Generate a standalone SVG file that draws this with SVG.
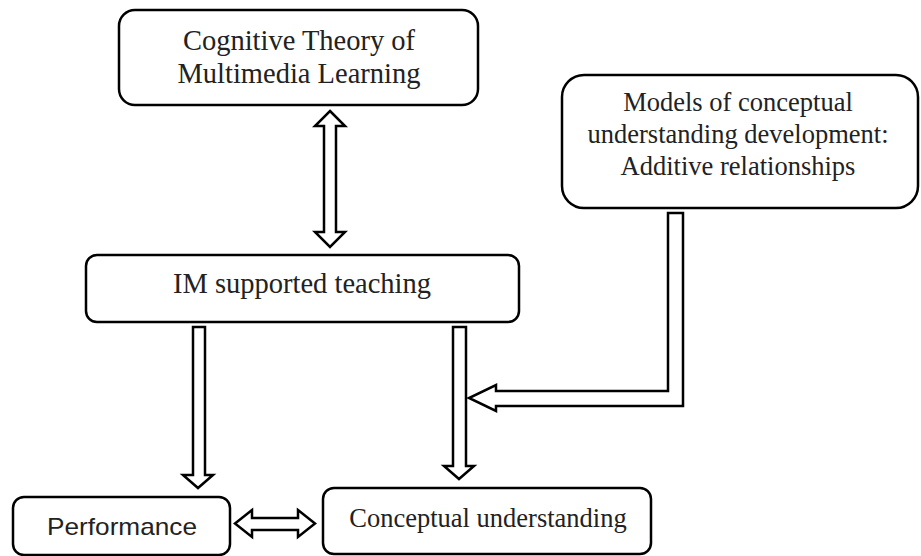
<svg xmlns="http://www.w3.org/2000/svg" width="921" height="556" viewBox="0 0 921 556">
<style>
.box{fill:#fff;stroke:#000;stroke-width:2.5}
.arr{fill:#fff;stroke:#000;stroke-width:2.5;stroke-linejoin:miter}
.serif{font-family:"Liberation Serif","Times New Roman",serif;fill:#222;text-anchor:middle}
.sans{font-family:"Liberation Sans",Arial,sans-serif;fill:#222;text-anchor:middle}
</style>
<rect width="921" height="556" fill="#fff"/>
<g id="connectors">
<path class="arr" d="M330,111 L345,126 L336,126 L336,232 L345,232 L330,247 L315,232 L324,232 L324,126 L315,126 Z"/>
<path class="arr" d="M193,327 L205,327 L205,475 L213,475 L198,488 L183,475 L193,475 Z"/>
<path class="arr" d="M453,327 L466,327 L466,466 L474,466 L459,479 L444,466 L453,466 Z"/>
<path class="arr" d="M668,213 L683,213 L683,406 L496,406 L496,411 L469,398 L496,385 L496,391 L668,391 Z"/>
<path class="arr" d="M235,523.5 L252,510 L252,518 L298,518 L298,510 L315,523.5 L298,537 L298,530 L252,530 L252,537 Z"/>
</g>
<g id="cognitive">
<rect class="box" x="119" y="10" width="359" height="95" rx="16"/>
<text class="serif" x="299" y="50" font-size="28.5">Cognitive Theory of</text>
<text class="serif" x="299" y="83" font-size="28.5">Multimedia Learning</text>
</g>
<g id="models">
<rect class="box" x="562" y="75" width="356" height="133" rx="22"/>
<text class="serif" x="738" y="111" font-size="26.5">Models of conceptual</text>
<text class="serif" x="738" y="143" font-size="26.5">understanding development:</text>
<text class="serif" x="738" y="175" font-size="26.5">Additive relationships</text>
</g>
<g id="im">
<rect class="box" x="86" y="255" width="433" height="67" rx="11"/>
<text class="serif" x="302" y="293" font-size="28.5">IM supported teaching</text>
</g>
<g id="performance">
<rect class="box" x="13" y="497" width="217" height="58" rx="11"/>
<text class="sans" x="122" y="535" font-size="24" textLength="150" lengthAdjust="spacingAndGlyphs">Performance</text>
</g>
<g id="conceptual">
<rect class="box" x="323" y="488" width="328" height="66" rx="11"/>
<text class="serif" x="488" y="527" font-size="26.5">Conceptual understanding</text>
</g>
</svg>
